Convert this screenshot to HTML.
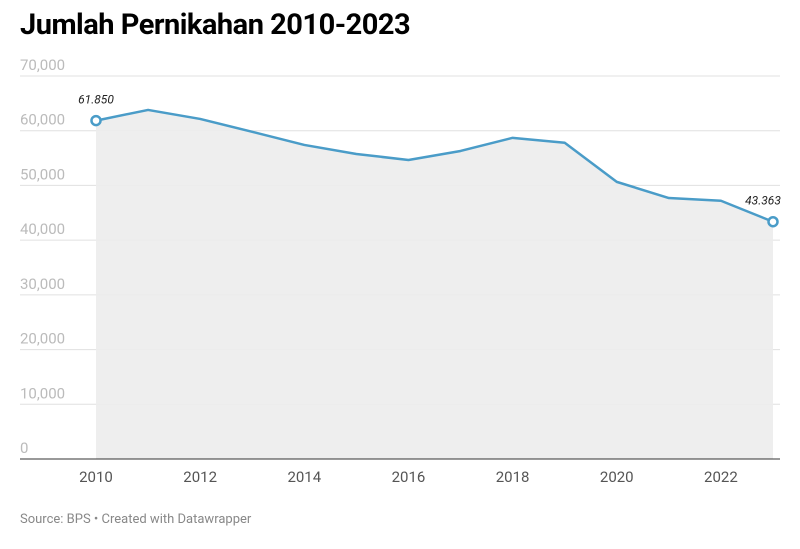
<!DOCTYPE html>
<html><head><meta charset="utf-8"><style>
body{margin:0;background:#fff;width:800px;height:549px;overflow:hidden;font-family:"Roboto","Liberation Sans",sans-serif;}
h1{position:absolute;left:20px;top:8px;margin:0;font-size:29px;font-weight:bold;color:#000;letter-spacing:-0.5px;}
#src{position:absolute;left:20px;top:512px;font-size:13px;color:#888;}
svg{position:absolute;left:0;top:0;}
</style></head><body>
<h1>Jumlah Pernikahan 2010-2023</h1>
<svg id="chart" width="800" height="549"></svg>
<div id="src">Source: BPS • Created with Datawrapper</div>
<script>
const years=[2010,2011,2012,2013,2014,2015,2016,2017,2018,2019,2020,2021,2022,2023];
const values=[61850,63800,62150,59800,57400,55750,54650,56300,58700,57800,50650,47700,47200,43363];
const yTicks=[0,10000,20000,30000,40000,50000,60000,70000];
const xTicks=[2010,2012,2014,2016,2018,2020,2022];
const labels=[{i:0,text:"61.850",dx:0},{i:13,text:"43.363",dx:-10}];
const NS="http://www.w3.org/2000/svg";
const svg=document.getElementById('chart');
const x=v=>96+(v-2010)*(773-96)/13;
const y=v=>459-v*(459-76)/70000;
function el(t,a,p){const e=document.createElementNS(NS,t);for(const k in a)e.setAttribute(k,a[k]);(p||svg).appendChild(e);return e;}
yTicks.forEach(t=>{
  const g=el('line',{x1:20,x2:780,y1:y(t),y2:y(t),stroke:t===0?'#333':'#e0e0e0','stroke-width':1});
  
  
  const tx=el('text',{x:20,y:y(t)-6,'font-size':15,fill:'#bbb','font-family':'Roboto,Liberation Sans,sans-serif'});
  tx.textContent=t.toLocaleString('en-US');
  
  
});
let d='M'+x(years[0])+','+y(0);
years.forEach((yr,i)=>d+=' L'+x(yr)+','+y(values[i]));
d+=' L'+x(years[years.length-1])+','+y(0)+'Z';
const area=el('path',{d:d,fill:'#ececec',opacity:0.9});


const bl=el('line',{x1:20,x2:780,y1:y(0),y2:y(0),stroke:'#333','stroke-width':1});


const pts=years.map((yr,i)=>x(yr)+','+y(values[i])).join(' ');
const line=el('polyline',{points:pts,fill:'none',stroke:'#4a9cc8','stroke-width':2.5,'stroke-linejoin':'round'});


labels.forEach(l=>{
  const c=el('circle',{cx:x(years[l.i]),cy:y(values[l.i]),r:4.5,fill:'#fff',stroke:'#4a9cc8','stroke-width':2.5});
  
  
  const t=el('text',{x:x(years[l.i])+l.dx,y:y(values[l.i])-17,'text-anchor':'middle','font-size':12,'font-style':'italic',fill:'#222'});
  t.textContent=l.text;
  
  
});
xTicks.forEach(t=>{
  const tx=el('text',{x:x(t),y:482,'text-anchor':'middle','font-size':15,fill:'#555'});
  tx.textContent=t;
  
  
});
</script>
</body></html>
